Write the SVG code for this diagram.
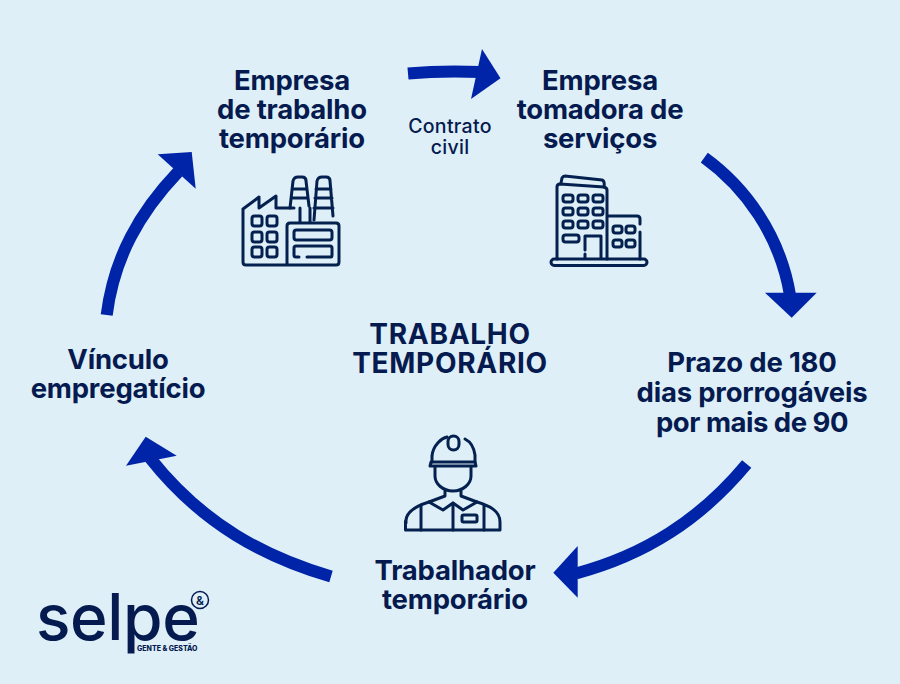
<svg xmlns="http://www.w3.org/2000/svg" width="900" height="684" viewBox="0 0 900 684">
<style>
.t{font-family:Inter,"Liberation Sans",sans-serif;font-weight:700;font-size:27.5px;fill:#051a4f;text-anchor:middle;letter-spacing:-.2px}
.c{font-size:28px;letter-spacing:.7px}
.s{font-family:Inter,"Liberation Sans",sans-serif;font-weight:500;font-size:19.500px;fill:#051a4f;text-anchor:middle;letter-spacing:.3px}
.sh{fill:none;stroke:#0024a8;stroke-width:12}
.hd{fill:#0024a8}
.ic{fill:none;stroke:#04204f;stroke-width:3;stroke-linecap:round;stroke-linejoin:round}
</style>
<rect width="900" height="684" fill="#deeff7"/>
<g id="connectors">
<path class="sh" d="M408 73.500C430 71.500 455 71 480 72"/><polygon class="hd" points="482,49 500.500,78.300 471,99"/>
<path class="sh" d="M704.300 157.700C745 187 780 235 790 295"/><polygon class="hd" points="765,292.700 816.700,292.700 791.700,317.700"/>
<path class="sh" d="M746.700 464C700 520 645 555 576 573.500"/><polygon class="hd" points="577.700,546 553.300,572.700 577.700,597.700"/>
<path class="sh" d="M331 576.500C265 557 203 525 150 458"/><polygon class="hd" points="176.700,455.700 145.700,436.700 126,465.700"/>
<path class="sh" d="M106.700 315C114 257 140 212 178 172"/><polygon class="hd" points="157.700,154.300 191.700,152 195.700,188.700"/>
</g>
<g id="node-agency">
<text class="t" x="292" y="90">Empresa</text><text class="t" x="292" y="119">de trabalho</text><text class="t" x="292" y="148">temporário</text>
<g class="ic">
<path d="M243 209L259 197V208L276 196V208H294M243 209V262Q243 265 246 265H336Q339 265 339 262V226Q339 223 336 223H290Q287 223 287 226V265"/>
<rect x="252" y="216" width="10" height="10" rx="2.500"/><rect x="267" y="216" width="10" height="10" rx="2.500"/>
<rect x="252" y="232" width="10" height="10" rx="2.500"/><rect x="267" y="232" width="10" height="10" rx="2.500"/>
<rect x="252" y="247" width="10" height="10" rx="2.500"/><rect x="267" y="247" width="10" height="10" rx="2.500"/>
<path d="M290 208L293 181Q294 177 298 177H302Q306 177 306 181L309 206M292 189H307M291 198H308M300 208V222M310 222V208"/>
<path d="M314 220L317 181Q318 177 322 177H326Q330 177 330 181L333 216M316 189H331M315 198H332M314 208H333"/>
<rect x="294" y="230" width="38" height="10" rx="2.500"/>
<path d="M307 257H331Q332 257 332 255V248Q332 246 330 246H296Q294 246 294 248V255Q294 257 296 257H299"/>
</g></g>
<g id="node-client">
<text class="t" x="600" y="90">Empresa</text><text class="t" x="600" y="119">tomadora de</text><text class="t" x="600" y="148">serviços</text>
<g class="ic">
<path d="M557 259V187Q557 184 560 184L604 187Q607 188 607 190V259"/>
<path d="M561 183L562 178Q563 176 565 176L602 180Q605 181 604 187"/>
<rect x="551" y="259" width="96" height="6.500" rx="3.200"/>
<path d="M608 216H637Q640 216 640 219V224M640 232V259"/>
<rect x="563" y="195" width="10" height="7" rx="2.500"/><rect x="578" y="195" width="10" height="7" rx="2.500"/><rect x="593" y="195" width="10" height="7" rx="2.500"/>
<rect x="563" y="208" width="10" height="7" rx="2.500"/><rect x="578" y="208" width="10" height="7" rx="2.500"/><rect x="593" y="208" width="10" height="7" rx="2.500"/>
<rect x="563" y="221" width="10" height="7" rx="2.500"/><rect x="578" y="221" width="10" height="7" rx="2.500"/><rect x="593" y="221" width="10" height="7" rx="2.500"/>
<rect x="563" y="235" width="16" height="7" rx="2.500"/>
<path d="M585 250V236H601V258M585 254V258"/>
<rect x="613" y="226" width="9" height="7" rx="2.500"/><rect x="626" y="226" width="9" height="7" rx="2.500"/>
<rect x="613" y="240" width="9" height="7" rx="2.500"/><rect x="626" y="240" width="9" height="7" rx="2.500"/>
</g></g>
<g id="node-contract"><text class="s" x="450" y="133">Contrato</text><text class="s" x="450" y="154">civil</text></g>
<g id="node-term"><text class="t" x="752" y="372">Prazo de 180</text><text class="t" x="752" y="402">dias prorrogáveis</text><text class="t" x="752" y="432" style="letter-spacing:-.5px">por mais de 90</text></g>
<g id="node-worker">
<text class="t" x="455" y="580">Trabalhador</text><text class="t" x="455" y="609">temporário</text>
<g class="ic">
<path d="M432 462V456C433 445 442 438 447 437M465 439C471 442 474 448 475 455V462"/>
<rect x="448" y="436" width="11" height="14" rx="5.500"/>
<path d="M431 462H475L476 466H430Z"/>
<path d="M435 467V476C435 484 443 491 453 491C463 491 471 484 471 476V467"/>
<path d="M445 491V496L429 502L443 510L453 503L463 510L477 502L461 496V491"/>
<path d="M429 502C416 506 407 511 406 520V523M405.500 521V530H500V522C500 511 490 506 477 502"/>
<path d="M421 505V530M453 503V530M484 505V530"/>
<rect x="462" y="515" width="15" height="7" rx="1.500"/>
</g></g>
<g id="node-link"><text class="t" x="118" y="369">Vínculo</text><text class="t" x="118" y="398">empregatício</text></g>
<g id="node-center"><text class="t c" x="450" y="344">TRABALHO</text><text class="t c" x="450" y="373">TEMPORÁRIO</text></g>
<g id="logo">
<text x="36" y="640" font-family="Inter,'Liberation Sans',sans-serif" font-weight="500" font-size="64" fill="#051a4f" letter-spacing="-.4">selpe</text>
<text x="137" y="651" font-family="Inter,'Liberation Sans',sans-serif" font-weight="800" font-size="7" fill="#051a4f">GENTE &amp; GESTÃO</text>
<circle cx="200" cy="600" r="8.500" fill="none" stroke="#051a4f" stroke-width="1.500"/>
<text x="200" y="604.500" text-anchor="middle" font-family="Inter,'Liberation Sans',sans-serif" font-weight="600" font-size="12" fill="#051a4f">&amp;</text>
</g>
</svg>
